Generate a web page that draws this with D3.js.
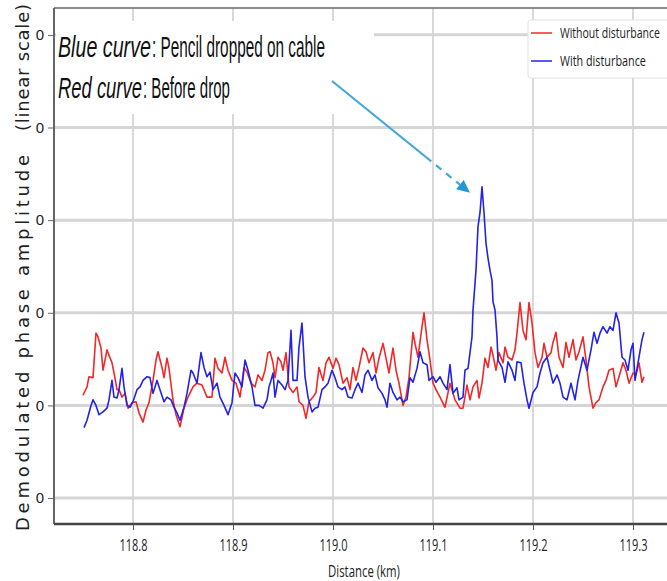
<!DOCTYPE html>
<html>
<head>
<meta charset="utf-8">
<script src="https://cdn.jsdelivr.net/npm/d3@7/dist/d3.min.js"></script>
<style>
  html, body { margin: 0; padding: 0; background: #fff; overflow: hidden; }
  svg { display: block; }
  text { font-family: "Liberation Sans Narrow", "Liberation Sans", Arial, sans-serif; fill: #222; }
</style>
</head>
<body>
<svg id="chart" width="667" height="581"></svg>
<script>
// Distance along the fibre (km) and demodulated phase amplitude, before the drop
const redDistance = [118.750,118.754,118.756,118.760,118.763,118.765,118.768,118.770,118.774,118.776,118.779,118.781,118.784,118.786,118.789,118.792,118.795,118.799,118.803,118.806,118.810,118.813,118.816,118.820,118.823,118.825,118.829,118.831,118.834,118.836,118.840,118.843,118.847,118.851,118.855,118.860,118.864,118.869,118.874,118.879,118.882,118.885,118.889,118.892,118.895,118.899,118.903,118.907,118.911,118.914,118.918,118.922,118.925,118.929,118.932,118.935,118.937,118.940,118.942,118.945,118.948,118.950,118.953,118.956,118.960,118.964,118.966,118.970,118.973,118.976,118.980,118.983,118.986,118.990,118.993,118.996,119.000,119.003,119.006,119.010,119.014,119.017,119.020,119.023,119.026,119.030,119.033,119.036,119.040,119.043,119.046,119.050,119.053,119.056,119.060,119.063,119.066,119.070,119.073,119.076,119.080,119.082,119.085,119.089,119.091,119.094,119.097,119.100,119.103,119.107,119.112,119.117,119.122,119.127,119.130,119.134,119.137,119.140,119.144,119.146,119.149,119.152,119.155,119.158,119.160,119.163,119.166,119.170,119.172,119.175,119.179,119.182,119.184,119.187,119.190,119.193,119.196,119.199,119.202,119.205,119.209,119.211,119.214,119.218,119.220,119.223,119.226,119.230,119.233,119.236,119.240,119.243,119.246,119.250,119.253,119.256,119.260,119.263,119.266,119.270,119.273,119.276,119.280,119.283,119.286,119.290,119.293,119.296,119.300,119.303,119.306,119.309,119.311];
const redAmplitude = [11.1,12.0,13.1,13.0,17.8,17.4,16.2,13.8,16.0,15.4,14.6,13.5,11.7,11.7,10.9,11.3,9.7,10.3,10.4,9.2,8.2,9.5,10.3,12.7,14.9,15.8,14.1,13.0,15.1,14.0,10.6,9.0,7.7,9.7,10.9,12.0,12.4,12.2,10.9,10.9,15.1,14.0,13.5,15.2,13.8,12.7,12.4,10.9,14.1,13.6,12.4,12.0,13.3,12.7,13.8,15.7,15.8,14.6,13.0,15.2,14.7,13.8,15.7,12.0,11.4,12.0,10.4,10.0,8.6,10.4,10.9,11.4,14.1,12.7,14.6,15.2,14.0,15.1,14.4,12.4,13.0,11.7,14.1,12.7,14.1,16.2,15.8,14.6,15.7,13.5,15.1,16.7,15.1,13.5,16.2,13.8,12.4,10.0,10.9,13.0,17.9,16.7,15.2,18.5,20.0,17.1,14.9,12.4,11.7,10.9,9.8,12.4,10.6,9.7,9.7,12.2,10.6,12.0,12.7,10.8,12.4,15.1,14.1,16.3,15.4,13.8,15.7,14.6,16.3,15.2,14.9,16.0,17.8,21.1,18.1,17.1,21.1,18.9,15.7,14.1,15.2,16.7,15.2,15.7,16.8,17.9,15.2,14.1,16.8,15.2,17.1,14.9,15.8,17.4,14.9,12.0,9.7,10.3,10.6,12.0,12.7,13.8,14.0,12.0,13.1,14.6,13.8,12.4,13.5,13.3,14.6,12.5,13.1];

// Same stretch of cable with the pencil dropped on it
const blueDistance = [118.751,118.754,118.758,118.760,118.763,118.766,118.770,118.774,118.776,118.779,118.781,118.784,118.786,118.789,118.791,118.794,118.797,118.800,118.804,118.807,118.810,118.814,118.817,118.820,118.824,118.827,118.831,118.834,118.838,118.841,118.844,118.847,118.851,118.854,118.858,118.860,118.864,118.868,118.871,118.874,118.877,118.880,118.884,118.887,118.891,118.895,118.899,118.902,118.905,118.909,118.912,118.915,118.919,118.922,118.926,118.930,118.934,118.936,118.938,118.940,118.942,118.945,118.949,118.952,118.955,118.958,118.960,118.964,118.966,118.969,118.972,118.975,118.979,118.982,118.985,118.989,118.992,118.995,118.999,119.002,119.005,119.009,119.012,119.015,119.019,119.022,119.025,119.029,119.032,119.035,119.039,119.042,119.045,119.049,119.052,119.054,119.057,119.060,119.064,119.067,119.070,119.074,119.077,119.080,119.084,119.087,119.090,119.094,119.096,119.100,119.103,119.107,119.110,119.114,119.117,119.120,119.124,119.126,119.130,119.132,119.135,119.139,119.140,119.143,119.145,119.147,119.149,119.151,119.153,119.155,119.157,119.159,119.160,119.162,119.164,119.165,119.169,119.172,119.175,119.179,119.182,119.184,119.188,119.191,119.194,119.196,119.200,119.204,119.207,119.210,119.214,119.217,119.220,119.224,119.227,119.230,119.234,119.238,119.242,119.245,119.250,119.254,119.258,119.261,119.264,119.267,119.270,119.274,119.277,119.280,119.283,119.286,119.289,119.292,119.295,119.298,119.300,119.302,119.305,119.309,119.311];
const blueAmplitude = [7.6,8.4,10.0,10.6,10.0,9.0,9.3,9.7,10.6,12.7,10.9,10.8,11.7,14.0,12.0,10.0,9.8,10.4,11.7,12.0,12.7,13.1,13.0,11.3,12.7,11.7,10.4,10.9,10.6,9.8,9.2,8.4,9.8,11.3,13.8,13.5,12.4,15.7,14.1,13.1,13.6,11.7,12.4,10.9,10.0,9.0,10.3,13.5,13.0,12.0,14.9,13.8,12.0,10.0,10.0,9.7,10.6,12.0,12.7,13.5,10.9,12.7,12.2,11.7,12.7,18.1,12.7,12.7,16.3,18.9,13.1,10.9,9.3,9.7,9.8,11.7,12.0,12.4,13.8,13.0,12.0,11.7,12.0,10.9,10.8,11.7,12.4,11.4,13.3,13.8,12.7,13.3,11.9,11.3,10.6,9.8,12.4,11.4,10.6,10.9,10.4,10.6,13.0,12.5,14.0,15.8,14.6,14.4,12.7,13.1,12.5,13.1,12.4,11.7,14.4,11.3,11.9,10.6,10.9,13.8,14.0,17.4,20.3,24.6,29.3,30.8,33.6,30.8,27.5,25.9,24.6,23.5,21.2,20.3,17.4,14.9,14.1,12.5,14.7,13.8,12.7,14.7,14.6,12.4,10.6,9.7,11.4,12.0,13.5,14.6,15.2,13.8,12.4,13.3,12.4,10.9,10.6,12.4,10.6,12.7,15.2,13.8,16.0,17.9,16.7,17.8,18.5,17.8,18.5,18.1,20.0,18.9,15.2,14.9,13.8,16.0,16.7,12.7,14.6,17.1,17.9];

// Axis ticks
const xTickValues = [118.8, 118.9, 119.0, 119.1, 119.2, 119.3];
const xTickLabels = ["118.8", "118.9", "119.0", "119.1", "119.2", "119.3"];
const yTickValues = [0, 10, 20, 30, 40, 50];
const yTickLabels = ["0", "0", "0", "0", "0", "0"];

const seriesNames = ["Without disturbance", "With disturbance"];
const seriesColors = ["#f02828", "#2323e6"];

const svg = d3.select("#chart");
const plot = { left: 54, right: 683, top: 8, bottom: 524 };

const x = d3.scaleLinear().domain([118.721, 119.35]).range([plot.left, plot.right]);
const y = d3.scaleLinear().domain([-2.8, 52.9]).range([plot.bottom, plot.top]);

// Squeeze a text horizontally to a target width around its anchor point
function squeeze(sel, width) {
  sel.each(function () {
    const t = d3.select(this);
    const natural = this.getComputedTextLength();
    const w = typeof width === "function" ? width(t.datum()) : width;
    const sx = w / natural;
    const ax = +t.attr("x") || 0;
    t.attr("transform", `translate(${ax * (1 - sx)},0) scale(${sx},1)`);
  });
}

// Grid
const grid = svg.append("g");
grid.selectAll("line.vg").data(xTickValues).join("line")
  .attr("x1", d => x(d)).attr("x2", d => x(d))
  .attr("y1", plot.top).attr("y2", plot.bottom)
  .attr("stroke", "#c9c9c9").attr("stroke-width", 1.4);
grid.selectAll("line.hg").data(yTickValues).join("line")
  .attr("x1", plot.left).attr("x2", plot.right)
  .attr("y1", d => y(d)).attr("y2", d => y(d))
  .attr("stroke", "#d5d5d5").attr("stroke-width", 3);

// Annotation backdrop
svg.append("rect").attr("x", 56).attr("y", 21).attr("width", 318).attr("height", 93).attr("fill", "#fff");

// Curves
const line = d3.line().x(d => x(d[0])).y(d => y(d[1]));
const redData = d3.zip(redDistance, redAmplitude);
const blueData = d3.zip(blueDistance, blueAmplitude);
svg.append("path").datum(redData).attr("d", line)
  .attr("fill", "none").attr("stroke", seriesColors[0]).attr("stroke-width", 1.6).attr("stroke-linejoin", "round");
svg.append("path").datum(blueData).attr("d", line)
  .attr("fill", "none").attr("stroke", seriesColors[1]).attr("stroke-width", 1.6).attr("stroke-linejoin", "round");

// Frame
svg.append("line").attr("x1", plot.left).attr("x2", 667).attr("y1", plot.top).attr("y2", plot.top)
  .attr("stroke", "#666").attr("stroke-width", 1.6);
svg.append("line").attr("x1", plot.left).attr("x2", plot.left).attr("y1", plot.top).attr("y2", plot.bottom)
  .attr("stroke", "#555").attr("stroke-width", 1.8);
svg.append("line").attr("x1", plot.left).attr("x2", 667).attr("y1", plot.bottom).attr("y2", plot.bottom)
  .attr("stroke", "#444").attr("stroke-width", 2.6);

// X axis
const xAxis = d3.axisBottom(x).tickValues(xTickValues).tickSize(6).tickPadding(9)
  .tickFormat((d, i) => xTickLabels[i]);
const gx = svg.append("g").attr("transform", `translate(0,${plot.bottom})`).call(xAxis);
gx.select(".domain").remove();
gx.selectAll(".tick line").attr("stroke", "#555");
gx.selectAll(".tick text").attr("font-size", 17).attr("fill", "#333")
  .style("font-family", '"Open Sans", sans-serif')
  .call(squeeze, 28);

// Y axis
const yAxis = d3.axisLeft(y).tickValues(yTickValues).tickSize(6).tickPadding(4)
  .tickFormat((d, i) => yTickLabels[i]);
const gy = svg.append("g").attr("transform", `translate(${plot.left},0)`).call(yAxis);
gy.select(".domain").remove();
gy.selectAll(".tick line").attr("stroke", "#666");
gy.selectAll(".tick text").attr("font-size", 15).attr("fill", "#333");

// Axis titles
svg.append("text").attr("x", 364).attr("y", 577).attr("text-anchor", "middle")
  .attr("font-size", 17).attr("fill", "#333")
  .style("font-family", '"Open Sans", sans-serif')
  .text("Distance (km)")
  .call(squeeze, 72);

const yTitle = svg.append("g").attr("transform", "translate(29,0) rotate(-90)");
yTitle.append("text").attr("x", -531).attr("y", 0)
  .attr("font-size", 18)
  .attr("textLength", 376).attr("lengthAdjust", "spacing")
  .style("font-family", '"DejaVu Sans", Verdana, sans-serif')
  .text("Demodulated phase amplitude");
yTitle.append("text").attr("x", -131).attr("y", 0)
  .attr("font-size", 18)
  .attr("textLength", 127).attr("lengthAdjust", "spacing")
  .style("font-family", '"DejaVu Sans", Verdana, sans-serif')
  .text("(linear scale)");

// Annotation text, each piece fitted to its own width
const notes = [
  { text: "Blue curve", italic: true, x: 58, y: 57, w: 93 },
  { text: ": Pencil dropped on cable", italic: false, x: 152, y: 57, w: 173 },
  { text: "Red curve", italic: true, x: 58, y: 98, w: 84 },
  { text: ": Before drop", italic: false, x: 143, y: 98, w: 87 }
];
svg.selectAll("text.note").data(notes).join("text")
  .attr("class", "note")
  .attr("x", d => d.x).attr("y", d => d.y)
  .attr("font-size", 30)
  .attr("font-style", d => d.italic ? "italic" : "normal")
  .style("fill", "#111")
  .text(d => d.text)
  .call(squeeze, d => d.w);

// Arrow toward the disturbance peak
const peakIndex = d3.maxIndex(blueAmplitude);
const tip = [x(blueDistance[peakIndex]) - 12, y(blueAmplitude[peakIndex]) + 6];
const start = [332, 81];
const mid = [start[0] + (tip[0] - start[0]) * 0.68, start[1] + (tip[1] - start[1]) * 0.68];
const arrowColor = "#45a6da";
svg.append("line").attr("x1", start[0]).attr("y1", start[1]).attr("x2", mid[0]).attr("y2", mid[1])
  .attr("stroke", arrowColor).attr("stroke-width", 2.2);
const ang = Math.atan2(tip[1] - start[1], tip[0] - start[0]);
const headLen = 13;
const back = [tip[0] - headLen * Math.cos(ang), tip[1] - headLen * Math.sin(ang)];
svg.append("line").attr("x1", mid[0]).attr("y1", mid[1]).attr("x2", back[0]).attr("y2", back[1])
  .attr("stroke", arrowColor).attr("stroke-width", 2.2).attr("stroke-dasharray", "7,6");
const perp = ang + Math.PI / 2;
svg.append("path")
  .attr("d", `M${tip[0]},${tip[1]} L${back[0] + 6 * Math.cos(perp)},${back[1] + 6 * Math.sin(perp)} L${back[0] - 6 * Math.cos(perp)},${back[1] - 6 * Math.sin(perp)} Z`)
  .attr("fill", "#1f9ad6");

// Legend
const lg = svg.append("g").attr("transform", "translate(528,20)");
lg.append("rect").attr("x", 0).attr("y", 0).attr("width", 170).attr("height", 58).attr("rx", 3)
  .attr("fill", "#fff").attr("stroke", "#e2e2e2").attr("stroke-width", 1);
const legendLengths = [100, 86];
seriesNames.forEach((name, i) => {
  const yy = 13 + i * 28;
  lg.append("line").attr("x1", 3).attr("x2", 24).attr("y1", yy).attr("y2", yy)
    .attr("stroke", seriesColors[i]).attr("stroke-width", 2).attr("stroke-opacity", 0.75);
  lg.append("text").attr("x", 32).attr("y", yy + 5).attr("font-size", 15).attr("fill", "#333")
    .style("font-family", '"Open Sans", sans-serif')
    .text(name)
    .call(squeeze, legendLengths[i]);
});
</script>
</body>
</html>
